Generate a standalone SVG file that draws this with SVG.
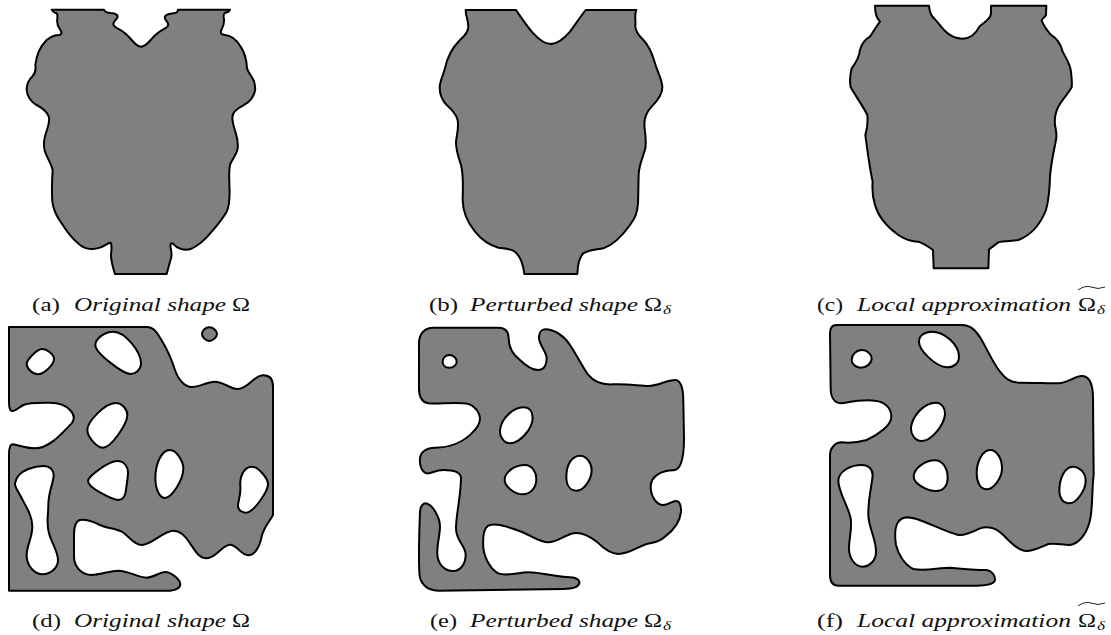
<svg xmlns="http://www.w3.org/2000/svg" width="1111" height="635" viewBox="0 0 1111 635">
<style>
.s{fill:#808080;stroke:#000;stroke-width:6;stroke-linejoin:round;fill-rule:evenodd}
text{font-family:"Liberation Serif","Times New Roman",serif;font-size:19px;fill:#111}
.i{font-style:italic}
.sub{font-size:13.5px;font-style:italic}
.t{fill:none;stroke:#222;stroke-width:1}
</style>
<g id="connectors"></g>
<g id="shape-a" transform="translate(0,0) scale(.33333)"><path class="s" d="M155 29 L312 29 C314 36 322 38 332 39 C345 40 353 43 353 50 C353 58 340 62 340 72 C340 80 348 83 358 88 C375 97 385 108 395 120 C405 132 412 140 423 140 C435 140 442 130 452 120 C465 103 480 93 495 85 C505 80 506 74 503 68 C498 60 492 56 495 49 C500 42 510 41 520 40 C530 38 534 35 534 29 L690 29 C688 35 682 37 676 38 C668 42 670 50 672 58 C674 72 668 82 663 92 C661 100 664 104 672 104 C695 106 712 122 722 140 C735 160 740 180 741 205 C745 218 752 225 756 232 C764 245 767 258 765 272 C760 295 745 308 730 316 C712 325 697 335 697 352 C697 370 703 385 707 398 C712 415 716 435 712 450 C707 468 695 480 690 495 C686 512 688 530 688 550 C689 580 692 610 680 635 C665 660 650 678 635 695 C615 720 595 738 570 748 C550 752 530 745 520 732 C513 726 510 732 512 745 C516 760 516 772 510 785 L500 822 L345 822 C338 800 333 785 333 765 C334 750 337 738 332 728 C325 727 315 738 300 743 C280 750 258 748 240 735 C218 718 200 695 185 670 C170 650 160 630 157 605 C155 575 156 540 158 510 C153 490 142 475 135 455 C130 438 131 422 136 405 C142 385 150 370 147 352 C142 335 125 323 110 315 C92 305 82 290 80 270 C79 250 88 238 98 228 C106 220 108 208 106 195 C110 160 122 138 140 120 C152 110 165 105 178 105 C186 103 186 96 180 88 C172 78 170 68 172 55 C173 45 172 38 165 38 C160 37 157 33 155 29Z"/></g>
<g id="shape-b" transform="translate(400,0) scale(.33333)"><path class="s" d="M197 30 L348 30 C370 62 385 85 400 100 C420 122 435 132 453 132 C472 132 490 118 510 95 C525 75 540 52 557 30 L709 30 C702 45 708 60 706 75 C704 95 720 110 730 120 C750 140 758 165 765 190 C772 215 787 240 787 262 C787 285 770 305 755 320 C740 335 733 350 733 375 C735 400 740 420 736 445 C730 470 716 495 716 525 C715 555 715 585 714 610 C712 640 705 655 690 675 C665 710 640 735 610 745 C585 748 565 750 550 760 C538 772 533 795 532 822 L373 822 C370 795 362 770 345 755 C330 745 315 745 295 743 C265 735 245 720 225 695 C205 670 188 640 188 600 C188 565 192 530 183 495 C175 470 167 450 168 425 C170 405 177 385 173 360 C168 340 155 328 140 315 C128 303 119 285 119 262 C120 240 130 225 135 205 C142 170 155 145 180 120 C192 108 205 98 205 80 C205 60 197 50 197 30Z"/></g>
<g id="shape-c" transform="translate(810,0) scale(.33333)"><path class="s" d="M195 17 L357 17 C358 35 362 48 375 58 C385 68 392 80 402 90 C418 107 438 116 458 116 C480 116 497 102 508 80 C518 68 543 60 543 40 L543 17 L709 17 L708 45 C705 52 695 56 695 62 C700 75 712 92 722 104 C740 115 752 130 758 155 C768 175 780 190 783 215 C785 235 787 250 785 262 C772 285 755 300 745 320 C735 340 733 355 735 375 C737 390 742 400 738 420 C730 460 722 495 720 530 C719 575 716 600 708 630 C690 675 665 705 625 720 C605 725 585 720 565 727 L537 748 L535 805 L371 805 L369 750 C355 740 340 730 325 725 C300 725 280 715 265 705 C230 680 205 650 195 615 C187 590 186 570 188 545 C178 500 172 450 166 405 C172 385 174 365 172 345 C160 320 135 285 122 262 C118 240 120 225 125 205 C138 188 148 170 150 150 C155 130 165 118 180 110 C190 95 200 78 210 65 C200 55 195 40 195 17Z"/></g>
<g id="shape-d" transform="translate(0,315) scale(.33333)"><path class="s" d="M27 36 L440 36 C465 36 475 60 490 85 C505 110 515 135 525 165 C535 195 555 216 575 216 C600 216 620 200 645 200 C670 200 690 222 712 222 C745 222 760 181 790 181 C812 181 819 195 819 215 L819 600 C805 625 790 640 785 665 C778 700 762 721 745 721 C722 721 712 689 690 689 C665 689 650 730 620 730 C595 730 585 705 570 685 C555 660 540 647 520 647 C490 647 455 690 425 690 C400 690 385 660 365 650 C345 640 320 640 300 630 C275 618 255 613 240 615 C228 618 222 635 222 660 L222 725 C222 755 245 780 275 780 C300 780 330 767 355 767 C385 767 415 788 440 788 C460 788 480 771 495 771 C515 771 541 795 541 808 C541 820 525 827 510 827 L27 827 L27 420 C27 400 30 388 38 388 C55 390 75 400 105 400 C150 400 190 350 215 325 C225 312 225 300 210 285 C195 268 175 263 150 263 C110 263 85 262 70 270 C55 278 45 290 35 288 C28 286 27 275 27 260 Z
M127 102 C140 102 162 118 162 132 C162 150 130 178 113 178 C98 178 80 160 80 147 C80 135 110 102 127 102Z
M340 50 C375 50 423 110 423 145 C423 165 405 177 392 177 C370 177 286 115 286 90 C286 70 315 50 340 50Z
M347 264 C365 264 382 282 382 300 C382 325 335 398 308 398 C290 398 262 365 262 345 C262 320 315 264 347 264Z
M352 438 C372 438 385 455 384 475 C383 495 380 505 378 525 C376 542 368 555 355 555 C340 555 264 520 264 498 C264 485 325 438 352 438Z
M510 405 C530 405 550 440 550 460 C550 495 515 549 495 549 C480 549 466 525 466 490 C466 445 485 405 510 405Z
M755 455 C775 455 804 490 804 508 C804 530 760 593 738 593 C725 593 714 585 714 572 C714 560 723 540 721 515 C718 480 735 455 755 455Z
M130 453 C150 453 162 465 161 482 C160 505 145 530 145 570 C145 600 138 625 147 655 C155 685 174 710 174 735 C174 760 150 778 128 778 C105 778 82 755 80 725 C78 695 97 670 97 635 C97 600 75 570 60 540 C50 522 44 515 45 505 C48 485 65 470 85 462 C100 456 115 453 130 453Z"/><path class="s" d="M628 37 C640 37 651 48 651 57 C651 66 638 78 628 78 C618 78 606 66 606 57 C606 48 616 37 628 37Z"/></g>
<g id="shape-e" transform="translate(400,315) scale(.33333)"><path class="s" d="M100 38 L295 38 C315 38 326 50 326 70 C326 100 340 120 360 135 C380 155 400 165 415 165 C432 165 440 150 440 130 C440 110 417 90 417 68 C417 52 425 43 435 43 C465 43 495 65 510 90 C530 120 550 160 565 180 C585 205 610 210 640 208 C680 206 720 213 745 213 C775 213 800 195 825 195 C842 195 850 220 850 260 L852 370 C852 420 845 466 820 466 C790 466 752 480 752 515 C752 545 770 570 790 570 C805 570 815 558 828 558 C838 558 844 570 843 590 C840 625 815 650 795 665 C780 678 765 682 750 685 C720 690 690 717 655 717 C630 717 610 700 590 680 C570 665 545 650 520 655 C495 660 470 682 445 682 C415 682 385 655 350 645 C315 633 285 622 265 632 C250 640 248 670 250 700 C255 735 275 765 295 775 C320 785 355 772 385 772 C425 772 470 787 510 787 C530 787 540 795 538 805 C535 817 515 822 490 822 L115 827 C80 827 58 805 58 770 C55 710 58 650 60 590 C62 572 68 565 78 565 C100 570 120 610 120 635 C120 660 110 690 112 720 C115 750 135 768 160 768 C182 768 197 745 197 720 C197 690 168 680 168 640 C168 600 183 540 183 490 C183 472 165 465 130 465 C105 465 95 477 80 475 C65 472 58 450 60 430 C62 410 80 398 105 398 C150 398 190 380 215 355 C232 340 240 325 240 310 C238 285 215 265 190 265 C150 262 115 268 85 265 C65 262 57 245 57 220 L57 85 C57 55 75 38 100 38Z
M148 120 C160 120 170 130 170 140 C170 150 160 158 148 158 C136 158 128 150 128 140 C128 130 136 120 148 120Z
M370 277 C388 277 398 290 398 308 C398 340 360 385 330 385 C312 385 298 365 300 345 C304 310 340 277 370 277Z
M375 450 C395 450 409 470 409 492 C409 520 390 538 368 538 C345 538 314 515 314 495 C314 470 345 450 375 450Z
M540 422 C560 422 575 445 575 465 C575 495 550 527 530 527 C510 527 499 510 499 485 C499 450 515 422 540 422Z"/></g>
<g id="shape-f" transform="translate(810,315) scale(.33333)"><path class="s" d="M80 30 L455 30 C485 30 500 50 515 75 C535 110 550 145 570 170 C585 190 600 203 630 203 C670 203 715 205 745 205 C775 203 795 183 815 183 C838 183 849 210 849 250 L851 480 C846 520 848 565 842 605 C835 650 810 685 780 690 C755 690 740 683 715 687 C695 695 670 708 650 708 C625 708 600 680 580 660 C560 640 535 632 510 640 C490 650 465 662 445 660 C405 650 360 625 320 612 C295 604 272 605 262 625 C252 645 255 670 258 690 C265 720 285 750 310 762 C345 770 385 758 420 758 C460 762 500 765 530 765 C545 767 555 780 555 793 C555 805 540 812 500 812 L85 812 C70 812 60 805 60 780 L60 420 C60 400 75 382 95 382 C120 385 145 382 170 375 C205 360 244 330 244 305 C244 280 225 260 195 257 C155 252 125 260 95 265 C72 265 62 245 62 220 L60 55 C60 38 65 30 80 30Z
M155 105 C172 105 185 118 185 130 C185 145 170 158 152 158 C137 158 125 147 125 135 C125 118 140 105 155 105Z
M365 50 C405 50 447 90 447 125 C447 145 430 158 412 157 C375 155 327 105 327 80 C327 62 343 50 365 50Z
M378 263 C395 263 406 280 405 298 C402 330 365 378 335 378 C315 378 302 358 303 338 C307 305 340 263 378 263Z
M375 436 C398 436 413 460 413 488 C413 512 400 528 378 528 C350 528 311 505 311 485 C311 460 345 436 375 436Z
M540 405 C560 405 576 430 576 460 C576 490 550 523 530 523 C510 523 500 500 500 475 C500 440 518 405 540 405Z
M788 455 C810 455 827 475 827 497 C827 525 800 565 778 565 C758 565 748 548 748 528 C748 490 765 455 788 455Z
M155 450 C175 450 188 462 188 480 C186 510 174 550 175 600 C176 640 198 670 198 710 C198 735 180 755 158 755 C135 755 117 730 117 700 C117 670 127 640 122 610 C115 575 85 530 85 498 C85 470 120 450 155 450Z"/></g>
<g id="caption-a"><text x="32" y="311" textLength="28" lengthAdjust="spacingAndGlyphs">(a)</text><text class="i" x="74" y="311" textLength="152" lengthAdjust="spacingAndGlyphs">Original shape</text><text x="232" y="311" textLength="18" lengthAdjust="spacingAndGlyphs">Ω</text></g>
<g id="caption-b"><text x="429" y="311" textLength="29" lengthAdjust="spacingAndGlyphs">(b)</text><text class="i" x="470" y="311" textLength="168" lengthAdjust="spacingAndGlyphs">Perturbed shape</text><text x="644" y="311" textLength="18" lengthAdjust="spacingAndGlyphs">Ω</text><text class="sub" x="663" y="314" textLength="8" lengthAdjust="spacingAndGlyphs">δ</text></g>
<g id="caption-c"><text x="817" y="311" textLength="26" lengthAdjust="spacingAndGlyphs">(c)</text><text class="i" x="857" y="311" textLength="214" lengthAdjust="spacingAndGlyphs">Local approximation</text><text x="1078" y="311" textLength="18" lengthAdjust="spacingAndGlyphs">Ω</text><text class="sub" x="1097" y="314" textLength="8" lengthAdjust="spacingAndGlyphs">δ</text><path class="t" d="M1078 290 Q1085 285 1091 287 Q1098 290 1105 287"/></g>
<g id="caption-d"><text x="32" y="627" textLength="29" lengthAdjust="spacingAndGlyphs">(d)</text><text class="i" x="74" y="627" textLength="152" lengthAdjust="spacingAndGlyphs">Original shape</text><text x="232" y="627" textLength="18" lengthAdjust="spacingAndGlyphs">Ω</text></g>
<g id="caption-e"><text x="430" y="627" textLength="27" lengthAdjust="spacingAndGlyphs">(e)</text><text class="i" x="470" y="627" textLength="168" lengthAdjust="spacingAndGlyphs">Perturbed shape</text><text x="644" y="627" textLength="18" lengthAdjust="spacingAndGlyphs">Ω</text><text class="sub" x="663" y="630" textLength="8" lengthAdjust="spacingAndGlyphs">δ</text></g>
<g id="caption-f"><text x="817" y="627" textLength="26" lengthAdjust="spacingAndGlyphs">(f)</text><text class="i" x="857" y="627" textLength="214" lengthAdjust="spacingAndGlyphs">Local approximation</text><text x="1078" y="627" textLength="18" lengthAdjust="spacingAndGlyphs">Ω</text><text class="sub" x="1097" y="630" textLength="8" lengthAdjust="spacingAndGlyphs">δ</text><path class="t" d="M1078 606 Q1085 601 1091 603 Q1098 606 1105 603"/></g>
</svg>
